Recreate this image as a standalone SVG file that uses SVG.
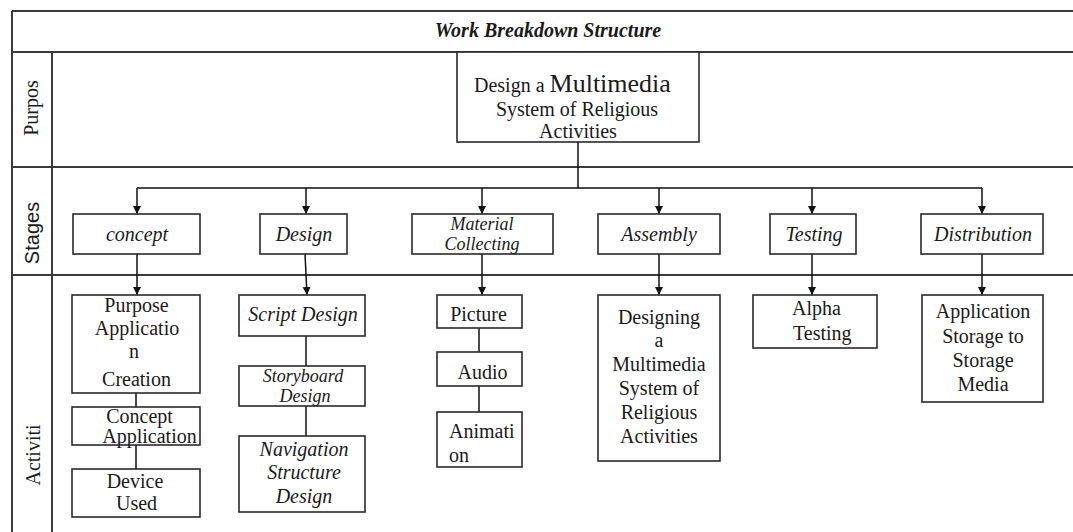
<svg xmlns="http://www.w3.org/2000/svg" width="1073" height="532" viewBox="0 0 1073 532">
<style>
text{font-family:"Liberation Serif","Times New Roman",serif;font-size:20px;fill:#1a1a1a;text-anchor:middle}
.it{font-style:italic}
.tight{font-size:18px}
.sans{font-family:"Liberation Sans",Arial,sans-serif}
.frame{stroke:#3a3a3a;stroke-width:2;fill:none}
.box{fill:#fff;stroke:#2a2a2a;stroke-width:1.6}
.con{stroke:#111;stroke-width:1.5;fill:none}
.arr{marker-end:url(#arr)}
</style>
<defs>
<marker id="arr" viewBox="0 0 10 10" refX="10" refY="5" markerWidth="8" markerHeight="9" markerUnits="userSpaceOnUse" orient="auto">
<path d="M0,0 L10,5 L0,10 z" fill="#111"/>
</marker>
</defs>
<rect width="1073" height="532" fill="#fff"/>
<g id="table">
<path class="frame" d="M12,11 H1073 M12,52 H1073 M12,167 H1073 M12,275 H1073 M12,11 V532 M52,52 V532"/>
<text x="548" y="37" font-weight="bold" class="it">Work Breakdown Structure</text>
<text transform="translate(38,108) rotate(-90)">Purpos</text>
<text class="sans" font-size="18.5" transform="translate(39,233) rotate(-90)">Stages</text>
<text transform="translate(40,455) rotate(-90)">Activiti</text>
</g>
<g id="connectors">
<path class="con" d="M578,142 V188 M137,188 H982"/>
<path class="con arr" d="M137,188 V214"/>
<path class="con arr" d="M306,188 V214"/>
<path class="con arr" d="M482,188 V214"/>
<path class="con arr" d="M659,188 V214"/>
<path class="con arr" d="M812,188 V214"/>
<path class="con arr" d="M982,188 V214"/>
<path class="con arr" d="M137,254 V295"/>
<path class="con arr" d="M305,254 L307,295"/>
<path class="con arr" d="M482,254 V295"/>
<path class="con arr" d="M659,254 V295"/>
<path class="con arr" d="M812,254 V295"/>
<path class="con arr" d="M982,254 V295"/>
<path class="con" d="M136,393 V407 M136,445 V469"/>
<path class="con" d="M306,336 V366 M306,406 V436"/>
<path class="con" d="M479,328 V352 M479,386 V412"/>
</g>
<g id="purpose">
<rect class="box" x="457" y="52" width="242" height="90"/>
<text x="474" y="92" style="text-anchor:start">Design a <tspan font-size="26">Multimedia</tspan></text>
<text x="577" y="116">System of Religious</text>
<text x="578" y="138">Activities</text>
</g>
<g id="stage-concept">
<rect class="box" x="73" y="214" width="127" height="40"/>
<text class="it" x="137" y="241">concept</text>
</g>
<g id="stage-design">
<rect class="box" x="260" y="214" width="87" height="40"/>
<text class="it" x="304" y="241">Design</text>
</g>
<g id="stage-material">
<rect class="box" x="412" y="214" width="141" height="40"/>
<text class="it tight" x="482" y="230">Material</text>
<text class="it tight" x="482" y="250">Collecting</text>
</g>
<g id="stage-assembly">
<rect class="box" x="598" y="214" width="122" height="40"/>
<text class="it" x="659" y="241">Assembly</text>
</g>
<g id="stage-testing">
<rect class="box" x="770" y="214" width="86" height="40"/>
<text class="it" x="814" y="241">Testing</text>
</g>
<g id="stage-distribution">
<rect class="box" x="921" y="214" width="122" height="40"/>
<text class="it" x="983" y="241">Distribution</text>
</g>
<g id="act-purpose">
<rect class="box" x="72" y="295" width="128" height="98"/>
<text x="136.5" y="312">Purpose</text>
<text x="137" y="335">Applicatio</text>
<text x="134" y="358">n</text>
<text x="136.5" y="386" font-size="24">Creation</text>
</g>
<g id="act-concept-app">
<rect class="box" x="72" y="407" width="128" height="38"/>
<text x="139.5" y="423">Concept</text>
<text x="149.5" y="443">Application</text>
</g>
<g id="act-device">
<rect class="box" x="72" y="469" width="128" height="48"/>
<text x="135" y="488">Device</text>
<text x="136.5" y="510">Used</text>
</g>
<g id="act-script">
<rect class="box" x="239" y="295" width="126" height="41"/>
<text class="it" x="303" y="321">Script Design</text>
</g>
<g id="act-storyboard">
<rect class="box" x="239" y="366" width="126" height="40"/>
<text class="it tight" x="303" y="382">Storyboard</text>
<text class="it tight" x="305" y="402">Design</text>
</g>
<g id="act-navigation">
<rect class="box" x="239" y="436" width="126" height="76"/>
<text class="it" x="304" y="456">Navigation</text>
<text class="it" x="304" y="479">Structure</text>
<text class="it" x="304" y="503">Design</text>
</g>
<g id="act-picture">
<rect class="box" x="437" y="295" width="85" height="33"/>
<text x="478.5" y="321">Picture</text>
</g>
<g id="act-audio">
<rect class="box" x="437" y="352" width="85" height="34"/>
<text x="482.5" y="379">Audio</text>
</g>
<g id="act-animation">
<rect class="box" x="437" y="412" width="85" height="55"/>
<text x="449" y="438" style="text-anchor:start">Animati</text>
<text x="449" y="462" style="text-anchor:start">on</text>
</g>
<g id="act-designing">
<rect class="box" x="598" y="295" width="122" height="166"/>
<text x="659" y="324">Designing</text>
<text x="659" y="347">a</text>
<text x="659" y="371">Multimedia</text>
<text x="659" y="395">System of</text>
<text x="659" y="419">Religious</text>
<text x="659" y="443">Activities</text>
</g>
<g id="act-alpha">
<rect class="box" x="753" y="295" width="124" height="53"/>
<text x="792" y="315" style="text-anchor:start">Alpha</text>
<text x="793" y="340" style="text-anchor:start">Testing</text>
</g>
<g id="act-storage">
<rect class="box" x="922" y="295" width="121" height="107"/>
<text x="983" y="318">Application</text>
<text x="983" y="343">Storage to</text>
<text x="983" y="367">Storage</text>
<text x="983" y="391">Media</text>
</g>
</svg>
